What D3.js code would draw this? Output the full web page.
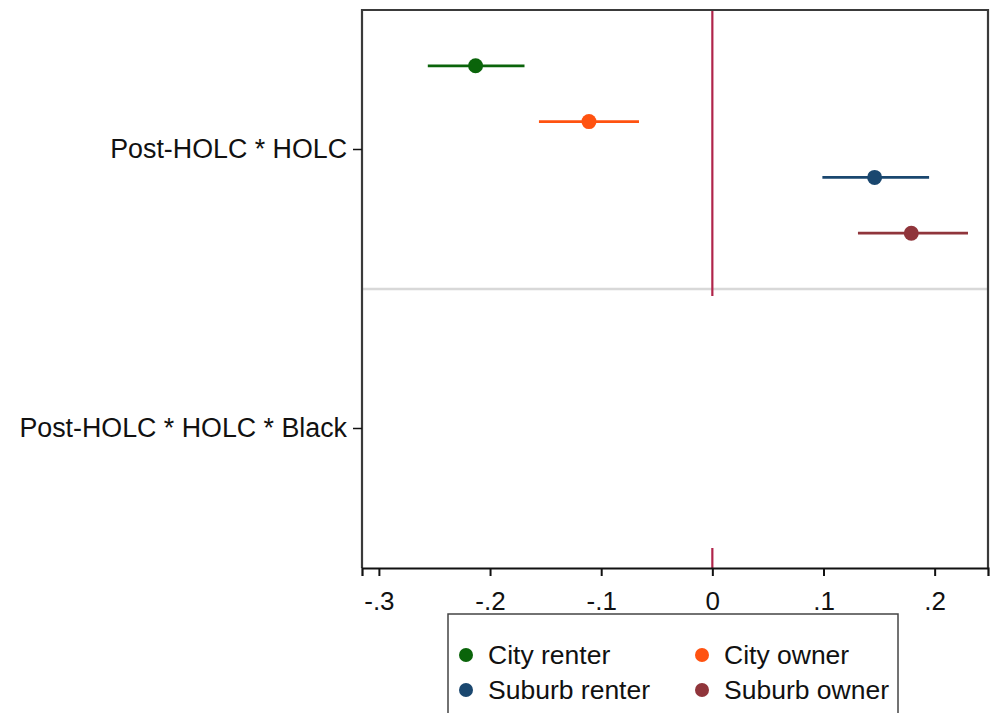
<!DOCTYPE html>
<html><head><meta charset="utf-8">
<script src="https://cdn.jsdelivr.net/npm/d3@7"></script>
<style>body{margin:0;background:#fff}svg{display:block;font-family:"Liberation Sans",Arial,sans-serif}</style>
</head><body>
<script>
const categories = ["Post-HOLC * HOLC", "Post-HOLC * HOLC * Black"];
const seriesNames = ["City renter", "City owner", "Suburb renter", "Suburb owner"];
const seriesColors = ["#0a640a", "#ff5210", "#1a476f", "#90353b"];
// estimates per category (null = not shown)
const estimates = [[-0.213, null], [-0.111, null], [0.146, null], [0.179, null]];
const ciLow     = [[-0.256, null], [-0.156, null], [0.099, null], [0.131, null]];
const ciHigh    = [[-0.169, null], [-0.066, null], [0.195, null], [0.230, null]];
const xTicks = [-0.3, -0.2, -0.1, 0, 0.1, 0.2];
const xTickLabels = ["-.3", "-.2", "-.1", "0", ".1", ".2"];

const W = 991, H = 713;
const m = {left: 362, right: 988, top: 10, bottom: 568};
const svg = d3.select("body").append("svg").attr("width", W).attr("height", H);

const x = d3.scaleLinear().domain([-0.3152, 0.2480]).range([m.left, m.right]);
const yBand = d3.scaleBand().domain(categories).range([m.top, m.bottom]);
const inner = d3.scalePoint().domain(seriesNames).range([yBand.bandwidth()*0.2, yBand.bandwidth()*0.8]);

// group separator
svg.append("line").attr("x1", m.left).attr("x2", m.right)
  .attr("y1", yBand(categories[1])).attr("y2", yBand(categories[1]))
  .attr("stroke", "#d8d8d8").attr("stroke-width", 2.5);

// zero reference line (two segments as in reference)
svg.append("line").attr("x1", x(0)).attr("x2", x(0))
  .attr("y1", m.top).attr("y2", yBand(categories[1]) + 7)
  .attr("stroke", "#b0244a").attr("stroke-width", 2.2);
svg.append("line").attr("x1", x(0)).attr("x2", x(0))
  .attr("y1", m.bottom - 20).attr("y2", m.bottom)
  .attr("stroke", "#b0244a").attr("stroke-width", 2.2);

// frame
svg.append("path").attr("d", `M${m.left},${m.bottom}V${m.top}H${m.right}V${m.bottom}`)
  .attr("fill", "none").attr("stroke", "#3a3a3a").attr("stroke-width", 2.2);

// x axis
const xAxis = d3.axisBottom(x).tickValues(xTicks).tickFormat((d,i)=>xTickLabels[i]).tickSize(8).tickPadding(16);
const gx = svg.append("g").attr("transform", `translate(0,${m.bottom})`).call(xAxis);
gx.select(".domain").attr("stroke", "#111").attr("stroke-width", 2.2);
gx.selectAll(".tick line").attr("stroke", "#111").attr("stroke-width", 2);
gx.selectAll("text").attr("font-size", 26).attr("fill", "#111").attr("font-family", "Liberation Sans, Arial, sans-serif");

// y axis
const yAxis = d3.axisLeft(yBand).tickSize(9).tickPadding(6);
const gy = svg.append("g").attr("transform", `translate(${m.left},0)`).call(yAxis);
gy.select(".domain").remove();
gy.selectAll(".tick line").attr("stroke", "#111").attr("stroke-width", 1.5);
gy.selectAll("text").attr("font-size", 26.8).attr("fill", "#111").attr("font-family", "Liberation Sans, Arial, sans-serif");

// points and CIs
seriesNames.forEach((s, si) => {
  categories.forEach((c, ci) => {
    const v = estimates[si][ci];
    if (v == null) return;
    const yy = yBand(c) + inner(s);
    svg.append("line").attr("x1", x(ciLow[si][ci])).attr("x2", x(ciHigh[si][ci]))
      .attr("y1", yy).attr("y2", yy).attr("stroke", seriesColors[si]).attr("stroke-width", 2.7);
    svg.append("circle").attr("cx", x(v)).attr("cy", yy).attr("r", 7.5).attr("fill", seriesColors[si]);
  });
});

// legend
const lg = svg.append("g");
lg.append("rect").attr("x", 448).attr("y", 614).attr("width", 450).attr("height", 110)
  .attr("fill", "#fff").attr("stroke", "#444").attr("stroke-width", 1.5);
seriesNames.forEach((s, i) => {
  const col = i % 2, row = Math.floor(i / 2);
  const lx = 466 + col * 236, ly = 655 + row * 35;
  lg.append("circle").attr("cx", lx).attr("cy", ly).attr("r", 7).attr("fill", seriesColors[i]);
  lg.append("text").attr("x", lx + 22).attr("y", ly).attr("dy", "0.35em")
    .attr("font-size", 26.5).attr("fill", "#111").text(s);
});
</script>
</body></html>
